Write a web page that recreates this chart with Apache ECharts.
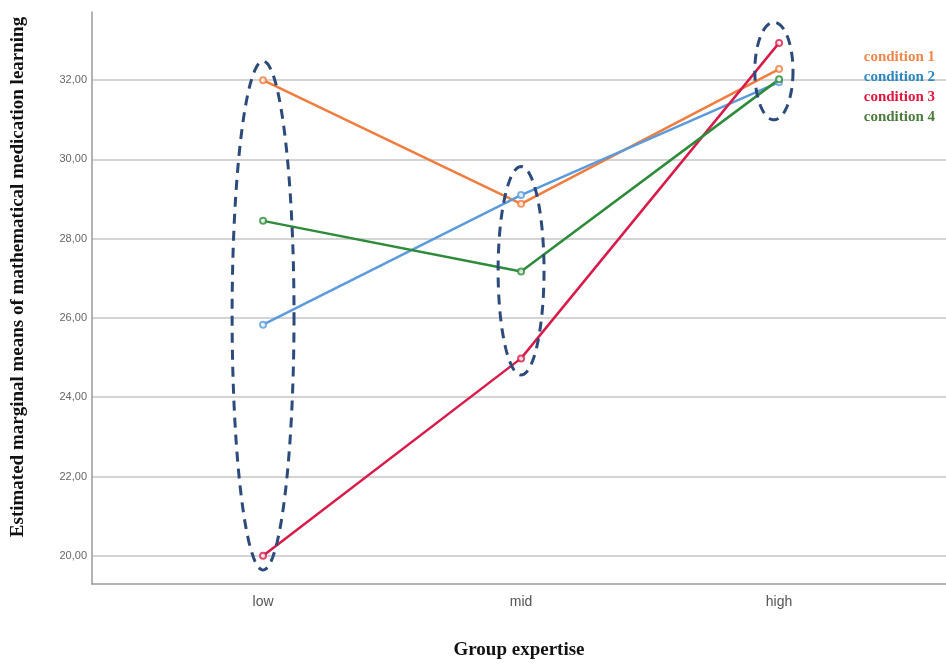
<!DOCTYPE html>
<html>
<head>
<meta charset="utf-8">
<script src="https://cdn.jsdelivr.net/npm/echarts@6/dist/echarts.min.js"></script>
<style>html,body{margin:0;padding:0;background:#fff;overflow:hidden}#c{width:946px;height:665px}</style>
</head>
<body>
<div id="c"></div>
<script>
// Categories (x positions 0,1,2)
const categories = ['low', 'mid', 'high'];
// Series values
const seriesNames = ['condition 1', 'condition 2', 'condition 3', 'condition 4'];
const condition1 = [32.00, 28.88, 32.28];
const condition2 = [25.83, 29.10, 31.95];
const condition3 = [20.00, 24.98, 32.94];
const condition4 = [28.45, 27.17, 32.02];
// Y tick labels
const yTicks = [20, 22, 24, 26, 28, 30, 32];
// Dashed ellipse annotations: [centerX, centerY, halfWidth, halfHeight] in data units
const ellipseCenterX = [0.0, 1.0, 1.98];
const ellipseCenterY = [26.06, 27.19, 32.23];
const ellipseHalfW = [0.12, 0.089, 0.074];
const ellipseHalfH = [6.42, 2.63, 1.23];

const lineColors = ['#F07C3E', '#5B9BDB', '#D81B4A', '#2E8B3A'];
const legendColors = ['#F0874A', '#2E86C1', '#E0163F', '#4B7B3C'];
const values = [condition1, condition2, condition3, condition4];

const chart = echarts.init(document.getElementById('c'), null, {renderer: 'canvas'});

const lineSeries = values.map((vals, i) => ({
  name: seriesNames[i],
  type: 'line',
  data: vals.map((v, j) => [j, v]),
  symbol: 'emptyCircle',
  symbolSize: 6,
  lineStyle: {color: lineColors[i], width: 2.5},
  itemStyle: {color: lineColors[i], borderWidth: 1.2, opacity: 0.8},
  z: 3,
  silent: true
}));

const ellipseData = ellipseCenterX.map((cx, i) => [cx, ellipseCenterY[i], ellipseHalfW[i], ellipseHalfH[i]]);

const ellipseSeries = {
  type: 'custom',
  name: 'ellipses',
  data: ellipseData,
  encode: {x: 0, y: 1},
  clip: false,
  silent: true,
  z: 4,
  renderItem: function (params, api) {
    const c = api.coord([api.value(0), api.value(1)]);
    const s = api.size([api.value(2), api.value(3)]);
    const pts = [];
    const n = 120;
    for (let k = 0; k < n; k++) {
      const a = (k / n) * Math.PI * 2;
      pts.push([c[0] + s[0] * Math.cos(a), c[1] + s[1] * Math.sin(a)]);
    }
    return {
      type: 'polygon',
      shape: {points: pts},
      style: {fill: 'none', stroke: '#2C4A7A', lineWidth: 3, lineDash: [10, 7]}
    };
  }
};

chart.setOption({
  animation: false,
  backgroundColor: '#fff',
  grid: {left: 92, right: 0, top: 12, bottom: 67, containLabel: false},
  legend: {
    orient: 'vertical',
    right: 6,
    top: 45,
    icon: 'none',
    itemWidth: 0,
    itemHeight: 14,
    itemGap: 5,
    selectedMode: false,
    data: seriesNames.map((n, i) => ({
      name: n,
      textStyle: {color: legendColors[i], fontFamily: 'Liberation Serif', fontWeight: 'bold', fontSize: 15}
    }))
  },
  xAxis: {
    type: 'value',
    min: -0.663,
    max: 2.647,
    axisLine: {show: true, onZero: false, lineStyle: {color: '#9a9a9a', width: 1.5}},
    axisTick: {show: false},
    splitLine: {show: false},
    axisLabel: {
      customValues: [0, 1, 2],
      formatter: v => categories[Math.round(v)],
      color: '#555',
      fontFamily: 'Liberation Sans',
      fontSize: 14,
      margin: 11
    },
    name: 'Group expertise',
    nameLocation: 'middle',
    nameGap: 57,
    nameTextStyle: {fontFamily: 'Liberation Serif', fontWeight: 'bold', fontSize: 19, color: '#111'}
  },
  yAxis: {
    type: 'value',
    min: 19.287,
    max: 33.72,
    axisLine: {show: true, onZero: false, lineStyle: {color: '#9a9a9a', width: 1.5}},
    axisTick: {show: false, customValues: yTicks},
    splitLine: {show: true, lineStyle: {color: '#d4d4d4', width: 2}},
    axisLabel: {
      customValues: yTicks,
      formatter: v => v.toFixed(2).replace('.', ','),
      color: '#666',
      fontFamily: 'Liberation Sans',
      fontSize: 11,
      margin: 5
    }
  },
  graphic: [{
    type: 'text',
    x: 18,
    y: 277,
    rotation: Math.PI / 2,
    style: {
      text: 'Estimated marginal means of mathematical medication learning',
      font: 'bold 19px "Liberation Serif"',
      fill: '#111',
      align: 'center',
      verticalAlign: 'middle'
    }
  }],
  series: lineSeries.concat([ellipseSeries])
});
</script>
</body>
</html>
